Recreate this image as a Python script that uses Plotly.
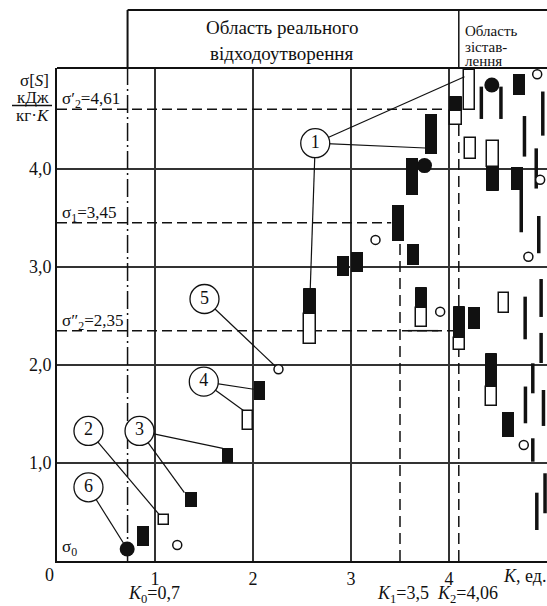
import plotly.graph_objects as go

# ---------------- data ----------------
x_tick_vals = [1, 2, 3, 4]
x_tick_text = ["1", "2", "3", "4"]
y_tick_vals = [1, 2, 3, 4]
y_tick_text = ["1,0", "2,0", "3,0", "4,0"]

sigma_levels = [4.61, 3.45, 2.35]
sigma_labels = ["σ′<sub>2</sub>=4,61", "σ<sub>1</sub>=3,45", "σ″<sub>2</sub>=2,35"]
sigma_line_end = [3.93, 3.41, 4.06]

K0_pos = 0.72
K1_pos = 3.5
K1_top = 3.28
K2_pos = 4.1
K2_top = 4.45

# solid black rectangles: centre x, low, high
black_x = [0.88, 1.366, 1.74, 2.066, 2.915, 3.065, 3.478, 3.633, 3.623, 3.82, 4.718, 4.694, 4.255, 4.6]
black_lo = [0.156, 0.547, 0.997, 1.643, 2.908, 2.946, 3.265, 3.02, 3.735, 4.15, 4.75, 3.786, 2.367, 1.262]
black_hi = [0.357, 0.707, 1.156, 1.84, 3.112, 3.156, 3.63, 3.23, 4.11, 4.558, 4.97, 4.017, 2.589, 1.517]

# open (white) rectangles
white_x = [1.094, 1.951, 4.209, 4.22, 4.56]
white_lo = [0.363, 1.337, 4.6, 4.1, 2.534]
white_hi = [0.472, 1.531, 5.01, 4.32, 2.732]

# two-part bars: white lower part + black upper part
split_x = [2.582, 4.07, 3.716, 4.105, 4.43]
split_lo = [2.214, 4.448, 2.385, 2.153, 1.585]
split_mid = [2.52, 4.595, 2.585, 2.279, 1.78]
split_hi = [2.772, 4.73, 2.789, 2.589, 2.11]

# two-part bar: black lower part + white upper part
inv_x = [4.45]
inv_lo = [3.779]
inv_mid = [4.017]
inv_hi = [4.289]

# thin vertical strokes: x, low, high
stroke_x = [4.33, 4.53, 4.77, 4.957, 4.89, 4.737, 4.916, 4.777, 4.94, 4.94, 4.855, 4.78, 4.964, 4.855, 4.98, 4.896]
stroke_lo = [4.51, 4.51, 4.126, 4.34, 3.8, 3.354, 3.14, 2.262, 2.49, 2.02, 1.711, 1.405, 1.378, 1.013, 0.487, 0.316]
stroke_hi = [4.84, 4.84, 4.54, 4.79, 4.21, 3.786, 3.52, 2.697, 2.877, 2.327, 2.017, 1.78, 1.745, 1.252, 0.895, 0.697]

# small open circles
ring_x = [1.227, 2.26, 3.25, 3.91, 4.763, 4.81, 4.9, 4.93]
ring_y = [0.163, 1.956, 3.276, 2.544, 1.184, 3.105, 4.966, 3.89]

# large filled circles
dot_x = [0.716, 3.75, 4.437]
dot_y = [0.122, 4.034, 4.857]

# numbered call-outs
callout_text = ["1", "2", "3", "4", "5", "6"]
callout_x = [2.635, 0.321, 0.842, 1.498, 1.505, 0.321]
callout_y = [4.263, 1.327, 1.327, 1.83, 2.673, 0.752]

# leader lines: call-out index -> target point
leader_from = [0, 0, 0, 1, 2, 2, 3, 3, 4, 5]
leader_to_x = [4.158, 3.758, 2.584, 1.046, 1.692, 1.30, 2.008, 1.906, 2.26, 0.716]
leader_to_y = [4.94, 4.214, 2.772, 0.47, 1.15, 0.697, 1.752, 1.534, 1.956, 0.122]

# ---------------- styling ----------------
INK = "#111111"
FONT = "Liberation Serif"
BLACK_W = 0.12
WHITE_W = 0.105
SPLIT_W = 0.115

W, H = 547, 606
ML, MR, MT, MB = 57, 0, 68, 45
PW = W - ML - MR
PH = H - MT - MB


def pxx(p):
    return (p - ML) / PW


def pxy(p):
    return (H - MB - p) / PH


fig = go.Figure()

# reference lines (sigma levels)
for lvl, end in zip(sigma_levels, sigma_line_end):
    fig.add_shape(type="line", xref="x", yref="y", x0=0, x1=end, y0=lvl, y1=lvl,
                  line=dict(color=INK, width=1.5, dash="10px,5px"), layer="between")
# short solid base under bar near K1
fig.add_shape(type="line", xref="x", yref="y", x0=3.58, x1=3.89, y0=sigma_levels[2], y1=sigma_levels[2],
              line=dict(color=INK, width=1.5), layer="between")

# K lines
fig.add_shape(type="line", xref="x", yref="y", x0=K0_pos, x1=K0_pos, y0=0, y1=5.03,
              line=dict(color=INK, width=1.5, dash="18px,4px,2px,4px"), layer="between")
fig.add_shape(type="line", xref="x", yref="y", x0=K1_pos, x1=K1_pos, y0=0, y1=K1_top,
              line=dict(color=INK, width=1.5, dash="11px,6px"), layer="between")
fig.add_shape(type="line", xref="x", yref="y", x0=K2_pos, x1=K2_pos, y0=0, y1=K2_top,
              line=dict(color=INK, width=1.5, dash="11px,6px"), layer="between")

# header box
hdr_top = pxy(10)
fig.add_shape(type="line", xref="x", yref="paper", x0=K0_pos, x1=K0_pos, y0=1, y1=hdr_top,
              line=dict(color=INK, width=2))
fig.add_shape(type="line", xref="x", yref="paper", x0=K2_pos, x1=K2_pos, y0=1, y1=hdr_top,
              line=dict(color=INK, width=1.5))
fig.add_shape(type="line", xref="x", yref="paper", x0=K0_pos, x1=5, y0=hdr_top, y1=hdr_top,
              line=dict(color=INK, width=2))
# top frame of plot
fig.add_shape(type="line", xref="paper", yref="paper", x0=0, x1=1, y0=1, y1=1,
              line=dict(color=INK, width=2))

# leader lines
lx, ly = [], []
for i, tx, ty in zip(leader_from, leader_to_x, leader_to_y):
    lx += [callout_x[i], tx, None]
    ly += [callout_y[i], ty, None]
fig.add_trace(go.Scatter(x=lx, y=ly, mode="lines", line=dict(color=INK, width=1.2),
                         hoverinfo="skip", showlegend=False))

# bars
fig.add_trace(go.Bar(x=black_x, y=[h - l for l, h in zip(black_lo, black_hi)], base=black_lo,
                     width=BLACK_W, marker=dict(color=INK, line=dict(width=0)), showlegend=False))
fig.add_trace(go.Bar(x=white_x, y=[h - l for l, h in zip(white_lo, white_hi)], base=white_lo,
                     width=WHITE_W, marker=dict(color="white", line=dict(color=INK, width=1.5)),
                     showlegend=False))
fig.add_trace(go.Bar(x=split_x, y=[m - l for l, m in zip(split_lo, split_mid)], base=split_lo,
                     width=SPLIT_W, marker=dict(color="white", line=dict(color=INK, width=1.5)),
                     showlegend=False))
fig.add_trace(go.Bar(x=split_x, y=[h - m for m, h in zip(split_mid, split_hi)], base=split_mid,
                     width=SPLIT_W, marker=dict(color=INK, line=dict(color=INK, width=1)),
                     showlegend=False))
fig.add_trace(go.Bar(x=inv_x, y=[h - m for m, h in zip(inv_mid, inv_hi)], base=inv_mid,
                     width=SPLIT_W, marker=dict(color="white", line=dict(color=INK, width=1.5)),
                     showlegend=False))
fig.add_trace(go.Bar(x=inv_x, y=[m - l for l, m in zip(inv_lo, inv_mid)], base=inv_lo,
                     width=SPLIT_W, marker=dict(color=INK, line=dict(color=INK, width=1)),
                     showlegend=False))

# thin strokes
sx, sy = [], []
for x, lo, hi in zip(stroke_x, stroke_lo, stroke_hi):
    sx += [x, x, None]
    sy += [lo, hi, None]
fig.add_trace(go.Scatter(x=sx, y=sy, mode="lines", line=dict(color=INK, width=3.5),
                         hoverinfo="skip", showlegend=False))

# circles
fig.add_trace(go.Scatter(x=ring_x, y=ring_y, mode="markers",
                         marker=dict(size=9, color="white", line=dict(color=INK, width=1.5)),
                         showlegend=False))
fig.add_trace(go.Scatter(x=dot_x, y=dot_y, mode="markers",
                         marker=dict(size=15, color=INK, line=dict(width=0)), showlegend=False))

# call-out circles
fig.add_trace(go.Scatter(x=callout_x, y=callout_y, mode="markers+text", text=callout_text,
                         textposition="middle center", textfont=dict(family=FONT, size=18, color=INK),
                         marker=dict(size=29, color="white", line=dict(color=INK, width=1.3)),
                         cliponaxis=False, showlegend=False))

ann = []
# sigma labels
for lvl, lab in zip(sigma_levels, sigma_labels):
    ann.append(dict(xref="x", yref="y", x=0.03, y=lvl, text=lab, showarrow=False,
                    xanchor="left", yanchor="bottom", yshift=-4,
                    font=dict(family=FONT, size=17, color=INK)))
ann.append(dict(xref="x", yref="y", x=0.03, y=0, text="σ<sub>0</sub>", showarrow=False,
                xanchor="left", yanchor="bottom", yshift=0,
                font=dict(family=FONT, size=17, color=INK)))


def txt(text, x, y, xanchor="center", size=18):
    ann.append(dict(xref="paper", yref="paper", x=pxx(x), y=pxy(y), text=text, showarrow=False,
                    xanchor=xanchor, yanchor="middle", font=dict(family=FONT, size=size, color=INK)))


txt("0", 49, 575)
txt("<i>K</i><sub>0</sub>=0,7", 126, 594, "left")
txt("<i>K</i><sub>1</sub>=3,5  <i>K</i><sub>2</sub>=4,06", 375, 594, "left")
txt("<i>K</i>, ед.", 501, 576, "left")
txt("σ[<i>S</i>]", 34, 80, size=17)
txt("кДж", 33, 97, size=17)
txt("кг·<i>K</i>", 33, 115, size=17)
fig.add_shape(type="line", xref="paper", yref="paper", x0=pxx(12), x1=pxx(52), y0=pxy(105.5), y1=pxy(105.5),
              line=dict(color=INK, width=1.3))
txt("Область реального", 282, 27, size=19)
txt("відходоутворення", 282, 53, size=19)
txt("Область", 463, 31, "left", size=15)
txt("зістав-", 463, 47, "left", size=15)
txt("лення", 463, 61, "left", size=15)

fig.update_layout(
    width=W, height=H,
    margin=dict(l=ML, r=MR, t=MT, b=MB),
    paper_bgcolor="white", plot_bgcolor="white",
    barmode="overlay", bargap=0,
    showlegend=False,
    annotations=ann,
    font=dict(family=FONT, color=INK),
)
fig.update_xaxes(range=[0, 5], tickvals=x_tick_vals, ticktext=x_tick_text, showgrid=True,
                 gridcolor="#333333", gridwidth=1.5, zeroline=False, showline=True,
                 linecolor=INK, linewidth=2, ticks="", tickfont=dict(family=FONT, size=18, color=INK))
fig.update_yaxes(range=[0, 5.03], tickvals=y_tick_vals, ticktext=y_tick_text, showgrid=True,
                 gridcolor="#333333", gridwidth=1.5, zeroline=False, showline=True,
                 linecolor=INK, linewidth=2, ticks="", tickfont=dict(family=FONT, size=18, color=INK))

fig.write_html("out.html", config={"displayModeBar": False},
               post_script="document.body.style.margin='0';document.body.style.overflow='hidden';")
